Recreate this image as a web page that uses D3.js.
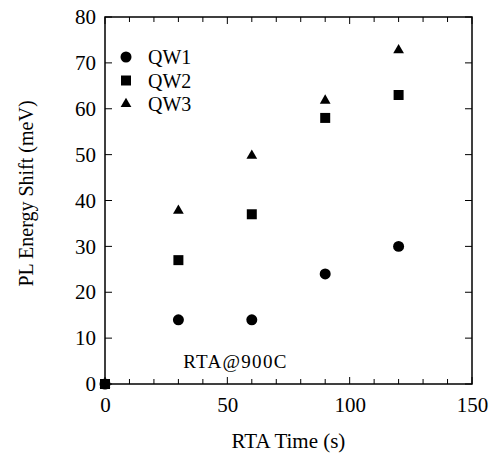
<!DOCTYPE html>
<html>
<head>
<meta charset="utf-8">
<script src="https://cdn.jsdelivr.net/npm/d3@7"></script>
<style>
  body { margin: 0; background: #fff; }
  text { font-family: "Liberation Serif", "Times New Roman", serif; fill: #000; }
</style>
</head>
<body>
<div id="chart"></div>
<script>
const times = [0, 30, 60, 90, 120]
const qw1 = [0, 14, 14, 24, 30]
const qw2 = [0, 27, 37, 58, 63]
const qw3 = [0, 38, 50, 62, 73]
const seriesNames = ["QW1", "QW2", "QW3"]
const xTicks = [0, 50, 100, 150]
const yTicks = [0, 10, 20, 30, 40, 50, 60, 70, 80]

let outerWidth = 493
let outerHeight = 455
let margin = {top: 17, bottom: 71, left: 105, right: 21}
let w = outerWidth - margin.left - margin.right
let h = outerHeight - margin.top - margin.bottom

const svg = d3.select("#chart")
    .append("svg")
    .attr("width", outerWidth)
    .attr("height", outerHeight)
    .append("g")
    .attr("transform", `translate(${margin.left}, ${margin.top})`)

const xScale = d3.scaleLinear().domain([0, 150]).range([0, w])
const yScale = d3.scaleLinear().domain([0, 80]).range([h, 0])

const minorX = d3.range(0, 151, 10)

// bottom axis
const xAxis = d3.axisBottom(xScale).tickValues(xTicks).tickSize(0).tickPadding(13).tickFormat(d3.format("d"))
svg.append("g")
    .attr("class", "axis x-axis")
    .attr("transform", `translate(0, ${h})`)
    .call(xAxis)
    .call(g => g.select(".domain").remove())
    .selectAll("text").style("font-size", "21px")

// left axis
const yAxis = d3.axisLeft(yScale).tickValues(yTicks).tickSize(0).tickPadding(9)
svg.append("g")
    .attr("class", "axis y-axis")
    .call(yAxis)
    .call(g => g.select(".domain").remove())
    .selectAll("text").style("font-size", "21px")

// inward ticks
const tickG = svg.append("g").attr("stroke", "#000").attr("stroke-width", 1)
minorX.forEach(v => {
    const len = xTicks.includes(v) ? 7 : 5
    tickG.append("line").attr("x1", xScale(v)).attr("x2", xScale(v)).attr("y1", h).attr("y2", h - len)
    tickG.append("line").attr("x1", xScale(v)).attr("x2", xScale(v)).attr("y1", 0).attr("y2", len)
})
yTicks.forEach(v => {
    tickG.append("line").attr("x1", 0).attr("x2", 7).attr("y1", yScale(v)).attr("y2", yScale(v))
    tickG.append("line").attr("x1", w).attr("x2", w - 7).attr("y1", yScale(v)).attr("y2", yScale(v))
})

// frame
svg.append("rect")
    .attr("width", w).attr("height", h)
    .attr("fill", "none").attr("stroke", "#000").attr("stroke-width", 1.5)

// axis titles
svg.append("text")
    .attr("x", w / 2).attr("y", h + 64)
    .attr("text-anchor", "middle")
    .style("font-size", "21px")
    .text("RTA Time (s)")

svg.append("text")
    .attr("transform", `translate(${-72}, ${h / 2 - 7}) rotate(-90)`)
    .attr("text-anchor", "middle")
    .style("font-size", "20px")
    .text("PL Energy Shift (meV)")

svg.append("text")
    .attr("x", xScale(32)).attr("y", yScale(3.5))
    .style("font-size", "19px")
    .style("letter-spacing", "1.3px")
    .text("RTA@900C")

// markers
const symbols = [d3.symbolCircle, d3.symbolSquare, d3.symbolTriangle]
const sizes = [95, 100, 50]
const allSeries = [qw1, qw2, qw3]

allSeries.forEach((vals, i) => {
    const sym = d3.symbol().type(symbols[i]).size(sizes[i])
    svg.append("g")
        .selectAll("path")
        .data(times.map((t, j) => ({t, v: vals[j]})))
        .join("path")
        .attr("transform", d => `translate(${xScale(d.t)}, ${yScale(d.v) + (i === 2 ? 1 : 0)})`)
        .attr("d", sym)
        .attr("fill", "#000")
})

// legend
const legend = svg.append("g").attr("transform", `translate(${21}, ${40})`)
seriesNames.forEach((name, i) => {
    const row = legend.append("g").attr("transform", `translate(0, ${i * 23.5})`)
    row.append("path")
        .attr("d", d3.symbol().type(symbols[i]).size(sizes[i])())
        .attr("fill", "#000")
    row.append("text")
        .attr("x", 22).attr("y", 7)
        .style("font-size", "20px")
        .text(name)
})
</script>
</body>
</html>
